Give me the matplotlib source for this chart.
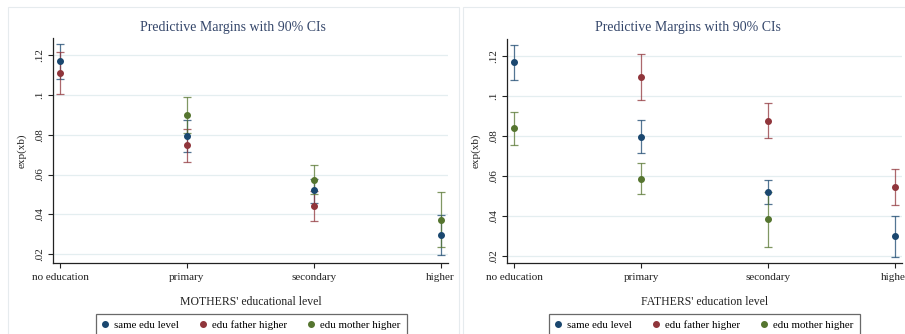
import numpy as np
import matplotlib
matplotlib.use("Agg")
import matplotlib.pyplot as plt
from matplotlib.lines import Line2D
from matplotlib.patches import Rectangle

plt.rcParams['font.family'] = ['Liberation Serif', 'DejaVu Serif']

categories = ["no education", "primary", "secondary", "higher"]
series_names = ["same edu level", "edu father higher", "edu mother higher"]
nan = np.nan

# Left panel: MOTHERS' educational level
m_same = [0.1168, 0.0795, 0.0520, 0.0298]
m_same_lo = [0.1078, 0.0713, 0.0459, 0.0196]
m_same_hi = [0.1255, 0.0875, 0.0577, 0.0398]
m_father = [0.1108, 0.0748, 0.0441, nan]
m_father_lo = [0.1003, 0.0661, 0.0366, nan]
m_father_hi = [0.1214, 0.0828, 0.0516, nan]
m_mother = [nan, 0.0898, 0.0573, 0.0374]
m_mother_lo = [nan, 0.0806, 0.0500, 0.0237]
m_mother_hi = [nan, 0.0990, 0.0646, 0.0510]

# Right panel: FATHERS' education level
f_same = [0.1168, 0.0795, 0.0520, 0.0298]
f_same_lo = [0.1078, 0.0713, 0.0459, 0.0196]
f_same_hi = [0.1255, 0.0877, 0.0577, 0.0398]
f_father = [nan, 0.1093, 0.0875, 0.0544]
f_father_lo = [nan, 0.0977, 0.0789, 0.0454]
f_father_hi = [nan, 0.1208, 0.0962, 0.0634]
f_mother = [0.0840, 0.0585, 0.0382, nan]
f_mother_lo = [0.0755, 0.0507, 0.0244, nan]
f_mother_hi = [0.0918, 0.0665, 0.0520, nan]

yticks = [0.02, 0.04, 0.06, 0.08, 0.10, 0.12]
ytick_labels = [".02", ".04", ".06", ".08", ".1", ".12"]

colors = ["#1a476f", "#90353b", "#55752f"]
title_color = "#34466a"
W, H = 905, 334

fig = plt.figure(figsize=(W / 100, H / 100), dpi=100)
fig.patch.set_facecolor("white")

def px_axes(x0, y0, x1, y1):
    return fig.add_axes([x0 / W, 1 - y1 / H, (x1 - x0) / W, (y1 - y0) / H])

# faint panel frames
for (x0, y0, x1, y1) in [(8, 7, 459, 340), (463, 7, 920, 340)]:
    fig.patches.append(Rectangle((x0 / W, 1 - y1 / H), (x1 - x0) / W, (y1 - y0) / H,
                                 transform=fig.transFigure, fill=False,
                                 edgecolor="#e6ebee", linewidth=0.8, zorder=0))

def draw_panel(ax, data, xlabel, xlim, ylim, title_x, legend_x):
    x = np.arange(len(categories))
    for (mean, lo, hi), c in zip(data, colors):
        mean = np.array(mean); lo = np.array(lo); hi = np.array(hi)
        ax.errorbar(x, mean, yerr=[mean - lo, hi - mean], fmt="none",
                    ecolor=c, alpha=0.75, elinewidth=0.9, capsize=2.6, capthick=0.9, zorder=3)
        ax.plot(x, mean, "o", color=c, markersize=4.0, linestyle="none", zorder=4)
    ax.set_xlim(*xlim)
    ax.set_ylim(*ylim)
    ax.set_yticks(yticks)
    ax.set_yticklabels(ytick_labels, rotation=90, va="center")
    ax.set_xticks(x)
    ax.set_xticklabels(categories)
    ax.tick_params(axis="both", labelsize=8, length=3.5, width=0.8, color="#222222",
                   labelcolor="#222222")
    ax.tick_params(axis="y", pad=3)
    ax.tick_params(axis="x", pad=4)
    ax.grid(axis="y", color="#e4eef0", linewidth=0.9)
    ax.set_axisbelow(True)
    for s in ["top", "right"]:
        ax.spines[s].set_visible(False)
    for s in ["left", "bottom"]:
        ax.spines[s].set_color("#222222")
        ax.spines[s].set_linewidth(0.9)
    ax.set_xlabel(xlabel, fontsize=8.5, color="#222222", labelpad=10)
    ax.set_ylabel("exp(xb)", fontsize=8, color="#222222", labelpad=6)
    fig.text(title_x / W, 1 - 27 / H, "Predictive Margins with 90% CIs",
             ha="center", va="center", fontsize=10, color=title_color)
    handles = [Line2D([], [], marker="o", color=c, linestyle="none", markersize=4.0)
               for c in colors]
    leg = fig.legend(handles, series_names, loc="upper left",
                     bbox_to_anchor=(legend_x / W, 1 - 314 / H), ncol=3,
                     fontsize=7.8, frameon=True, fancybox=False, borderpad=0.6,
                     handlelength=0.5, handletextpad=0.6, columnspacing=1.95,
                     borderaxespad=0)
    leg.get_frame().set_edgecolor("#444444")
    leg.get_frame().set_linewidth(0.9)

axL = px_axes(53, 38, 448, 263)
draw_panel(axL,
           [(m_same, m_same_lo, m_same_hi),
            (m_father, m_father_lo, m_father_hi),
            (m_mother, m_mother_lo, m_mother_hi)],
           "MOTHERS' educational level", (-0.055, 3.058), (0.0156, 0.1285), 233, 96)

axR = px_axes(507, 39, 902, 263)
draw_panel(axR,
           [(f_same, f_same_lo, f_same_hi),
            (f_father, f_father_lo, f_father_hi),
            (f_mother, f_mother_lo, f_mother_hi)],
           "FATHERS' education level", (-0.055, 3.053), (0.0164, 0.1284), 688, 549)

fig.savefig("out.png", dpi=100)
